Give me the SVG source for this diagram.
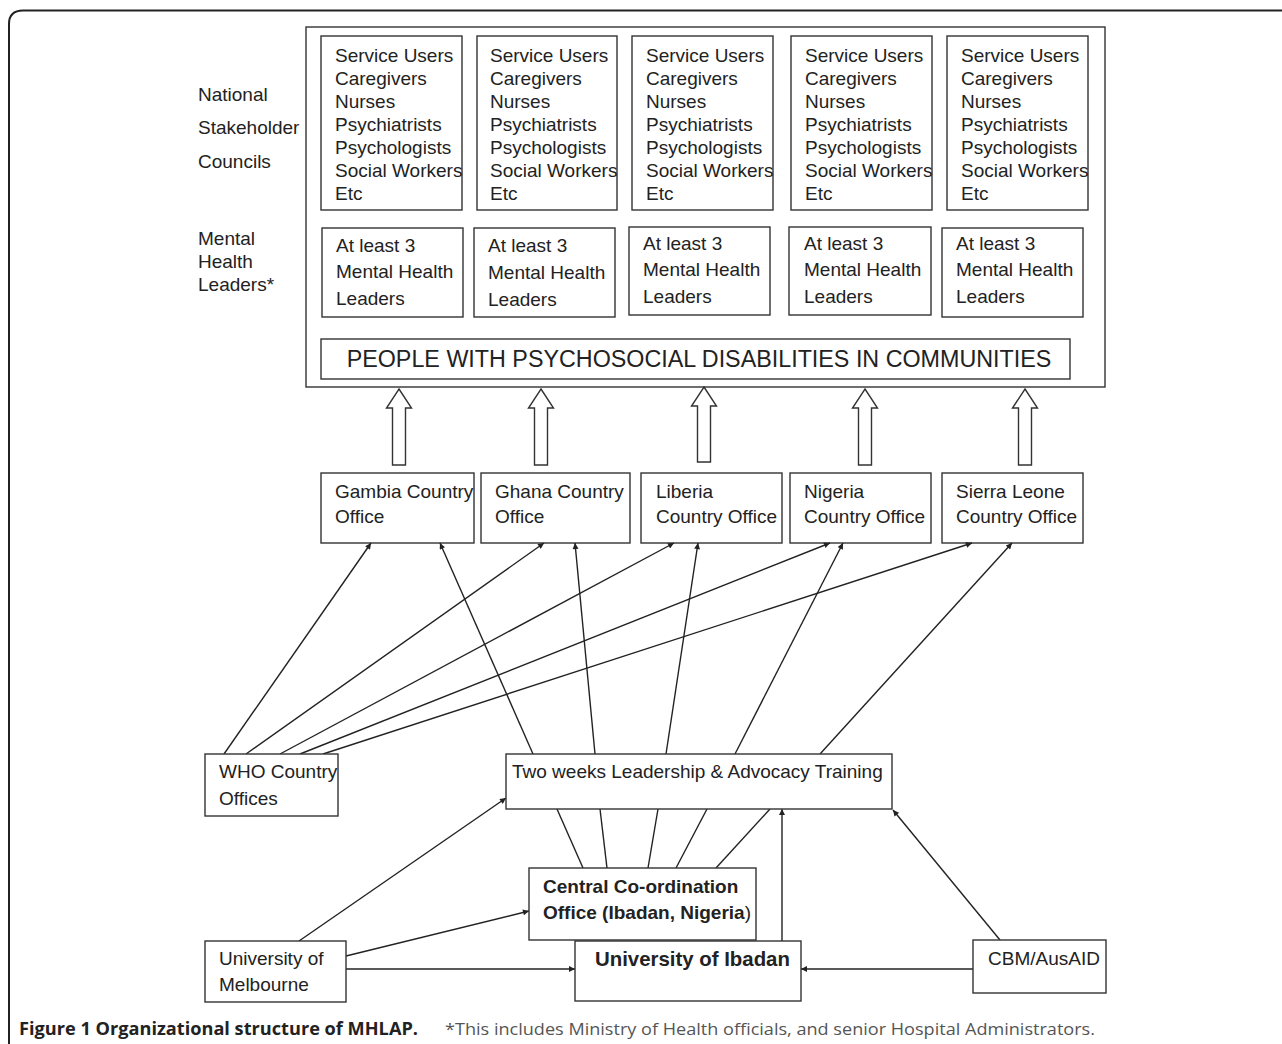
<svg xmlns="http://www.w3.org/2000/svg" width="1282" height="1044" viewBox="0 0 1282 1044">
<defs>
<style>
.t{font-family:"Liberation Sans",Arial,sans-serif;font-size:19px;fill:#222}
.b{font-weight:bold}
.box{fill:#fff;stroke:#333;stroke-width:1.4}
.ln{stroke:#222;stroke-width:1.4;fill:none}
.ar{stroke:#222;stroke-width:1.4;fill:none;marker-end:url(#ah)}
.hol{fill:#fff;stroke:#333;stroke-width:1.4}
.cap{font-family:"Open Sans","Noto Sans",sans-serif;font-size:17px}
</style>
<marker id="ah" viewBox="0 0 10 10" refX="10" refY="5" markerWidth="8" markerHeight="6" markerUnits="userSpaceOnUse" orient="auto">
<path d="M0,0 L10,5 L0,10 z" fill="#222"/>
</marker>
</defs>
<rect width="1282" height="1044" fill="#fff"/>
<path d="M9,1044 L9,24 Q9,10.5 23,10.5 L1282,10.5" fill="none" stroke="#222" stroke-width="2"/>

<g id="main-box"><rect class="box" x="306" y="27" width="799" height="360"/></g>

<g id="labels">
<text class="t" x="198" y="101">National</text>
<text class="t" x="198" y="134">Stakeholder</text>
<text class="t" x="198" y="168">Councils</text>
<text class="t" x="198" y="245">Mental</text>
<text class="t" x="198" y="268">Health</text>
<text class="t" x="198" y="291">Leaders*</text>
</g>

<g id="council1"><rect class="box" x="321" y="36" width="141" height="174"/>
<text class="t"><tspan x="335" y="62">Service Users</tspan><tspan x="335" y="85">Caregivers</tspan><tspan x="335" y="108">Nurses</tspan><tspan x="335" y="131">Psychiatrists</tspan><tspan x="335" y="154">Psychologists</tspan><tspan x="335" y="177">Social Workers</tspan><tspan x="335" y="200">Etc</tspan></text></g>
<g id="council2"><rect class="box" x="477" y="36" width="140" height="174"/>
<text class="t"><tspan x="490" y="62">Service Users</tspan><tspan x="490" y="85">Caregivers</tspan><tspan x="490" y="108">Nurses</tspan><tspan x="490" y="131">Psychiatrists</tspan><tspan x="490" y="154">Psychologists</tspan><tspan x="490" y="177">Social Workers</tspan><tspan x="490" y="200">Etc</tspan></text></g>
<g id="council3"><rect class="box" x="632" y="36" width="141" height="174"/>
<text class="t"><tspan x="646" y="62">Service Users</tspan><tspan x="646" y="85">Caregivers</tspan><tspan x="646" y="108">Nurses</tspan><tspan x="646" y="131">Psychiatrists</tspan><tspan x="646" y="154">Psychologists</tspan><tspan x="646" y="177">Social Workers</tspan><tspan x="646" y="200">Etc</tspan></text></g>
<g id="council4"><rect class="box" x="791" y="36" width="141" height="174"/>
<text class="t"><tspan x="805" y="62">Service Users</tspan><tspan x="805" y="85">Caregivers</tspan><tspan x="805" y="108">Nurses</tspan><tspan x="805" y="131">Psychiatrists</tspan><tspan x="805" y="154">Psychologists</tspan><tspan x="805" y="177">Social Workers</tspan><tspan x="805" y="200">Etc</tspan></text></g>
<g id="council5"><rect class="box" x="947" y="36" width="141" height="174"/>
<text class="t"><tspan x="961" y="62">Service Users</tspan><tspan x="961" y="85">Caregivers</tspan><tspan x="961" y="108">Nurses</tspan><tspan x="961" y="131">Psychiatrists</tspan><tspan x="961" y="154">Psychologists</tspan><tspan x="961" y="177">Social Workers</tspan><tspan x="961" y="200">Etc</tspan></text></g>

<g id="leaders1"><rect class="box" x="322" y="228" width="141" height="89"/>
<text class="t"><tspan x="336" y="252">At least 3</tspan><tspan x="336" y="278">Mental Health</tspan><tspan x="336" y="305">Leaders</tspan></text></g>
<g id="leaders2"><rect class="box" x="474" y="228" width="141" height="89"/>
<text class="t"><tspan x="488" y="252">At least 3</tspan><tspan x="488" y="279">Mental Health</tspan><tspan x="488" y="306">Leaders</tspan></text></g>
<g id="leaders3"><rect class="box" x="629" y="227" width="141" height="88"/>
<text class="t"><tspan x="643" y="250">At least 3</tspan><tspan x="643" y="276">Mental Health</tspan><tspan x="643" y="303">Leaders</tspan></text></g>
<g id="leaders4"><rect class="box" x="789" y="227" width="142" height="88"/>
<text class="t"><tspan x="804" y="250">At least 3</tspan><tspan x="804" y="276">Mental Health</tspan><tspan x="804" y="303">Leaders</tspan></text></g>
<g id="leaders5"><rect class="box" x="942" y="228" width="141" height="89"/>
<text class="t"><tspan x="956" y="250">At least 3</tspan><tspan x="956" y="276">Mental Health</tspan><tspan x="956" y="303">Leaders</tspan></text></g>

<g id="people"><rect class="box" x="321" y="339" width="749" height="40"/>
<text class="t" x="699" y="367" text-anchor="middle" style="font-size:23.3px">PEOPLE WITH PSYCHOSOCIAL DISABILITIES IN COMMUNITIES</text></g>

<g id="hollow-arrows">
<polygon class="hol" points="399,389 411.5,408 405.5,408 405.5,465 392.5,465 392.5,408 386.5,408"/>
<polygon class="hol" points="541,389 553.5,408 547.5,408 547.5,465 534.5,465 534.5,408 528.5,408"/>
<polygon class="hol" points="704,387 716.5,406 710.5,406 710.5,462 697.5,462 697.5,406 691.5,406"/>
<polygon class="hol" points="865,389 877.5,408 871.5,408 871.5,465 858.5,465 858.5,408 852.5,408"/>
<polygon class="hol" points="1025,389 1037.5,408 1031.5,408 1031.5,465 1018.5,465 1018.5,408 1012.5,408"/>
</g>

<g id="gambia"><rect class="box" x="321" y="473" width="153" height="70"/>
<text class="t"><tspan x="335" y="498">Gambia Country</tspan><tspan x="335" y="523">Office</tspan></text></g>
<g id="ghana"><rect class="box" x="481" y="473" width="149" height="70"/>
<text class="t"><tspan x="495" y="498">Ghana Country</tspan><tspan x="495" y="523">Office</tspan></text></g>
<g id="liberia"><rect class="box" x="641" y="473" width="141" height="70"/>
<text class="t"><tspan x="656" y="498">Liberia</tspan><tspan x="656" y="523">Country Office</tspan></text></g>
<g id="nigeria"><rect class="box" x="790" y="473" width="141" height="70"/>
<text class="t"><tspan x="804" y="498">Nigeria</tspan><tspan x="804" y="523">Country Office</tspan></text></g>
<g id="sierra-leone"><rect class="box" x="942" y="473" width="141" height="70"/>
<text class="t"><tspan x="956" y="498">Sierra Leone</tspan><tspan x="956" y="523">Country Office</tspan></text></g>

<g id="connectors">
<line class="ar" x1="224" y1="754" x2="371" y2="543"/>
<line class="ar" x1="246" y1="754" x2="544" y2="543"/>
<line class="ar" x1="280" y1="754" x2="674" y2="543"/>
<line class="ar" x1="300" y1="754" x2="830" y2="543"/>
<line class="ar" x1="323" y1="754" x2="972" y2="543"/>
<line class="ar" x1="533" y1="754" x2="440" y2="543"/>
<line class="ar" x1="595" y1="754" x2="575" y2="543"/>
<line class="ar" x1="666" y1="754" x2="698" y2="543"/>
<line class="ar" x1="735" y1="754" x2="843" y2="543"/>
<line class="ar" x1="820" y1="754" x2="1012" y2="543"/>
<line class="ln" x1="557" y1="809" x2="583" y2="868"/>
<line class="ln" x1="600" y1="809" x2="607" y2="868"/>
<line class="ln" x1="658" y1="809" x2="648" y2="868"/>
<line class="ln" x1="707" y1="809" x2="676" y2="868"/>
<line class="ln" x1="770" y1="809" x2="716" y2="868"/>
<line class="ar" x1="782" y1="941" x2="782" y2="809"/>
<line class="ar" x1="299" y1="941" x2="506" y2="798"/>
<line class="ar" x1="346" y1="956" x2="529" y2="911"/>
<line class="ar" x1="346" y1="969" x2="575" y2="969"/>
<line class="ar" x1="973" y1="969" x2="801" y2="969"/>
<line class="ar" x1="1000" y1="940" x2="893" y2="810"/>
</g>

<g id="who"><rect class="box" x="205" y="754" width="133" height="62"/>
<text class="t"><tspan x="219" y="778">WHO Country</tspan><tspan x="219" y="805">Offices</tspan></text></g>
<g id="training"><rect class="box" x="506" y="754" width="386" height="55"/>
<text class="t" x="512" y="778">Two weeks Leadership &amp; Advocacy Training</text></g>
<g id="central"><rect class="box" x="529" y="868" width="227" height="72"/>
<text class="t b" x="543" y="893">Central Co-ordination</text>
<text class="t" x="543" y="919"><tspan class="b">Office (Ibadan, Nigeria</tspan>)</text></g>
<g id="ibadan"><rect class="box" x="575" y="941" width="226" height="60"/>
<text class="t b" x="595" y="966" style="font-size:20.4px">University of Ibadan</text></g>
<g id="melbourne"><rect class="box" x="205" y="941" width="141" height="61"/>
<text class="t"><tspan x="219" y="965">University of</tspan><tspan x="219" y="991">Melbourne</tspan></text></g>
<g id="cbm"><rect class="box" x="973" y="940" width="133" height="53"/>
<text class="t" x="988" y="965">CBM/AusAID</text></g>

<g id="caption">
<text class="cap" x="19" y="1035" font-weight="bold" fill="#222" textLength="399" lengthAdjust="spacingAndGlyphs">Figure 1 Organizational structure of MHLAP.</text>
<text class="cap" x="445" y="1035" fill="#555" textLength="650" lengthAdjust="spacingAndGlyphs">*This includes Ministry of Health officials, and senior Hospital Administrators.</text>
</g>
</svg>
